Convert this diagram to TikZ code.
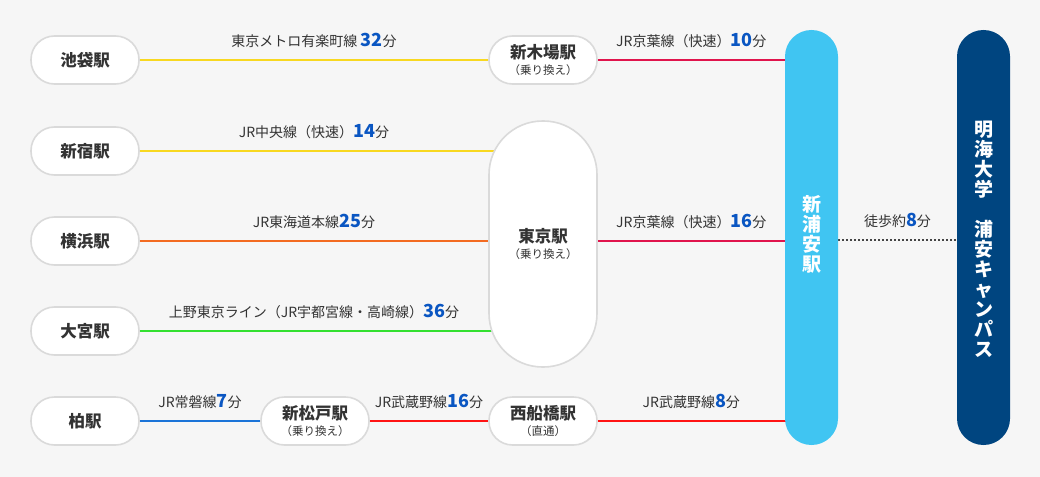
\documentclass[tikz,border=0pt]{standalone}
\usepackage{fontspec}
\setmainfont{Noto Sans CJK JP}
\usetikzlibrary{calc}
\definecolor{bgc}{HTML}{F6F6F6}
\definecolor{boxgray}{HTML}{DADADA}
\definecolor{txt}{HTML}{333333}
\definecolor{numblue}{HTML}{0A56C2}
\definecolor{lyellow}{HTML}{F8D820}
\definecolor{lorange}{HTML}{F36B21}
\definecolor{lgreen}{HTML}{33E030}
\definecolor{lcrimson}{HTML}{E0144C}
\definecolor{lred}{HTML}{FF1414}
\definecolor{lblue}{HTML}{1B74D8}
\definecolor{skyblue}{HTML}{40C5F2}
\definecolor{navy}{HTML}{004580}
\definecolor{dotc}{HTML}{444444}
\pgfdeclarelayer{bg}
\pgfdeclarelayer{lines}
\pgfsetlayers{bg,lines,main}
\newcommand\nb[1]{{\fontsize{18}{18}\selectfont\bfseries\color{numblue}#1}}
\newcommand\subl[1]{{\fontsize{11.5}{12}\selectfont\mdseries #1}}
\tikzset{
  st/.style={draw=boxgray, line width=1.6pt, fill=white, rounded corners=23.5pt,
    minimum width=108pt, minimum height=48pt, inner sep=0pt, align=center,
    text=txt, font=\fontsize{16.5}{16}\selectfont\bfseries},
  bigst/.style={st, rounded corners=53.5pt, minimum height=246pt},
  pill/.style={rounded corners=26.4pt, minimum width=53pt, minimum height=415pt, inner sep=0pt},
  vtext/.style={text=white, align=center, inner sep=0pt, font=\fontsize{19}{20}\selectfont\bfseries},
  ln/.style={line width=1.6pt},
  lbl/.style={anchor=base, yshift=13.5pt, text=txt, inner sep=0pt, font=\fontsize{14}{14}\selectfont},
  dotline/.style={draw=dotc, line width=1.6pt, dash pattern=on 1.6pt off 2.4pt},
}
\begin{document}
\begin{tikzpicture}[x=1pt,y=-1pt]
\useasboundingbox (0,0) rectangle (1040,476);
\begin{pgfonlayer}{bg}
\fill[bgc] (-6,-6) rectangle (1046,482);
\end{pgfonlayer}

% stations
\node[st] (ike) at (85,60) {池袋駅};
\node[st] (shinj) at (85,151) {新宿駅};
\node[st] (yoko) at (85,241) {横浜駅};
\node[st] (omiya) at (85,331) {大宮駅};
\node[st] (kashiwa) at (85,421) {柏駅};
\node[st] (shinkiba) at (543,60) {新木場駅\\\subl{（乗り換え）}};
\node[bigst] (tokyo) at (543,244) {東京駅\\\subl{（乗り換え）}};
\node[st] (shinmatsudo) at (315,421) {新松戸駅\\\subl{（乗り換え）}};
\node[st] (nishifuna) at (543,421) {西船橋駅\\\subl{（直通）}};
\node[pill, fill=skyblue] (urayasu) at (811.5,237.5) {};
\node[pill, fill=navy] (campus) at (983.5,237.5) {};
\node[vtext] (urayasuT) at (811.5,234) {新\\浦\\安\\駅};
\node[vtext] (campusT) at (983.5,239) {明\\海\\大\\学\\[20pt]浦\\安\\キ\\ャ\\ン\\パ\\ス};

\begin{pgfonlayer}{lines}
\draw[ln, lyellow] (ike.east) -- node[lbl]{東京メトロ有楽町線 \nb{32}分} (shinkiba.west);
\draw[ln, lcrimson] (shinkiba.east) -- node[lbl]{JR京葉線（快速）\nb{10}分} (urayasu.west |- shinkiba.east) -- (urayasu.center |- shinkiba.east);
\draw[ln, lyellow] (shinj.east) -- node[lbl]{JR中央線（快速）\nb{14}分} (shinj.east -| tokyo.west) -- (shinj.east -| tokyo.center);
\draw[ln, lorange] (yoko.east) -- node[lbl]{JR東海道本線\nb{25}分} (yoko.east -| tokyo.west) -- (yoko.east -| tokyo.center);
\draw[ln, lgreen] (omiya.east) -- node[lbl]{上野東京ライン（JR宇都宮線・高崎線）\nb{36}分} (omiya.east -| tokyo.west) -- (omiya.east -| tokyo.center);
\draw[ln, lcrimson] (yoko.east -| tokyo.center) -- (yoko.east -| tokyo.east) -- node[lbl]{JR京葉線（快速）\nb{16}分} (yoko.east -| urayasu.west) -- (yoko.east -| urayasu.center);
\draw[ln, lblue] (kashiwa.east) -- node[lbl]{JR常磐線\nb{7}分} (shinmatsudo.west);
\draw[ln, lred] (shinmatsudo.east) -- node[lbl]{JR武蔵野線\nb{16}分} (nishifuna.west);
\draw[ln, lred] (nishifuna.east) -- node[lbl]{JR武蔵野線\nb{8}分} (nishifuna.east -| urayasu.west) -- (nishifuna.east -| urayasu.center);
\path ($(urayasu.east)+(0,2.5)$) coordinate (dA) ($(campus.west)+(0,2.5)$) coordinate (dB);
\draw[dotline] (dA) -- node[lbl, text=txt]{徒歩約\nb{8}分} (dB);
\end{pgfonlayer}
\end{tikzpicture}
\end{document}
